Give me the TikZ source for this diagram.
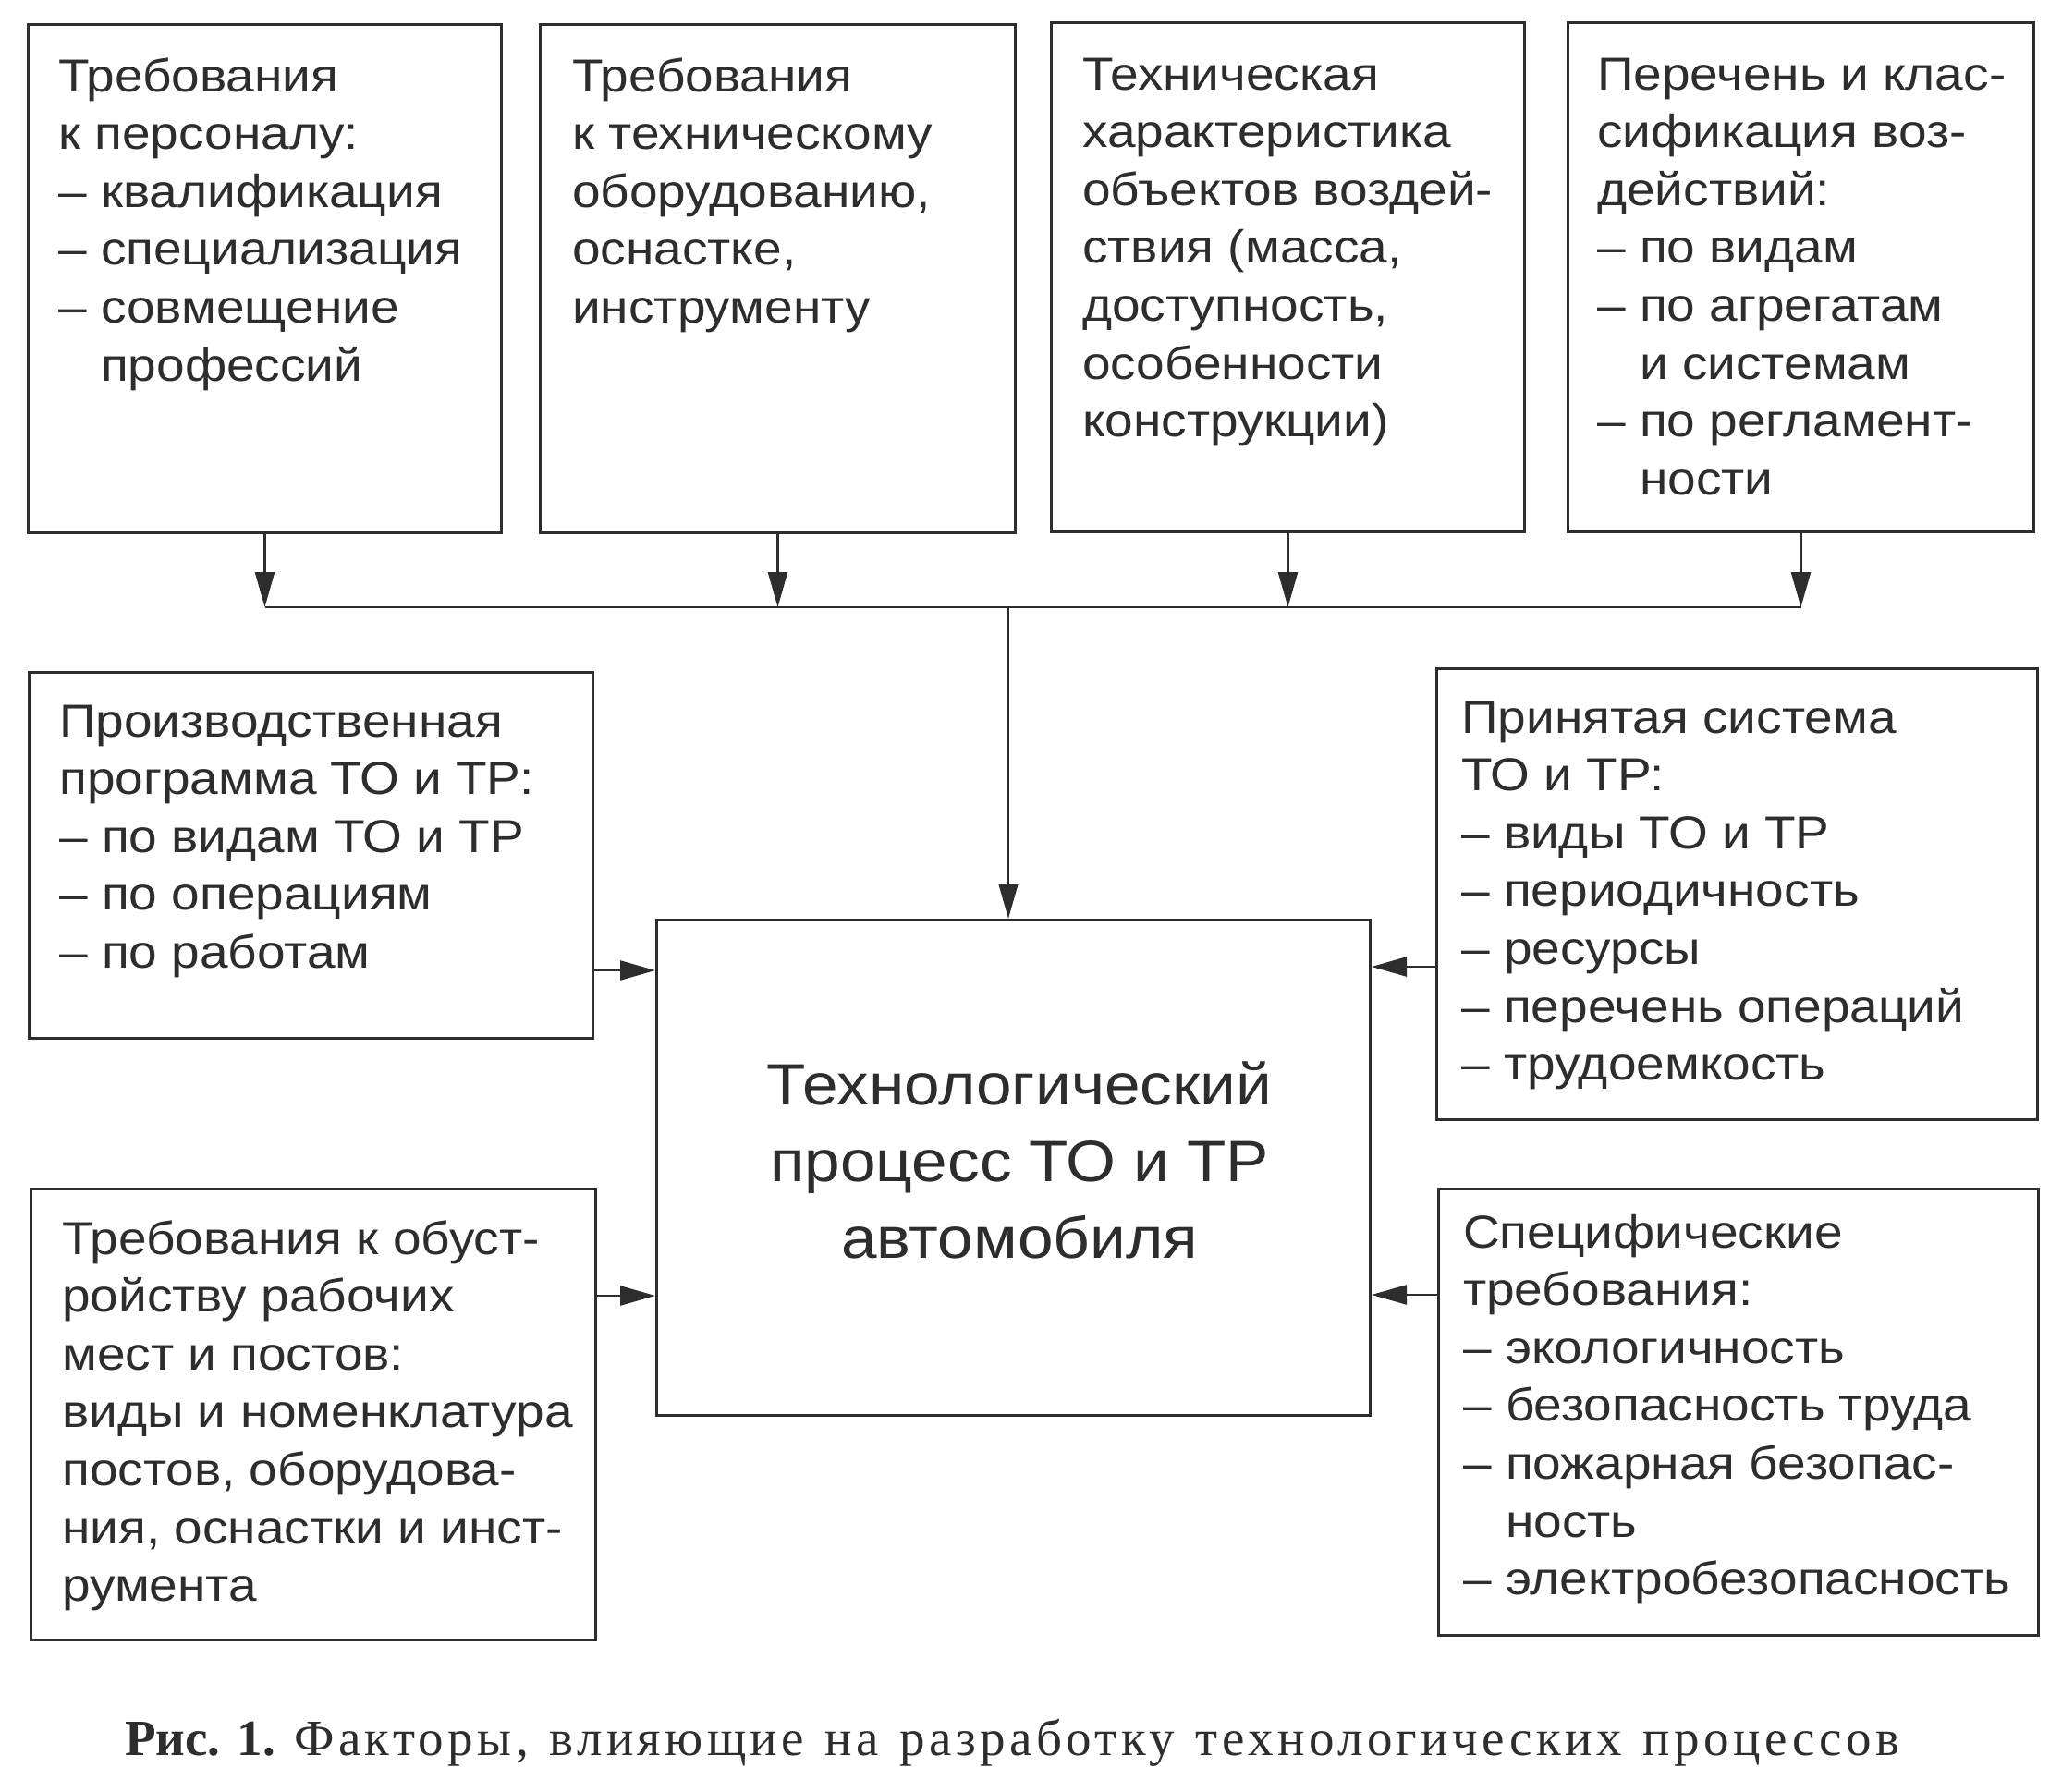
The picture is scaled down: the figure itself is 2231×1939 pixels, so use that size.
\documentclass[tikz,border=0pt]{standalone}
\usepackage{fontspec}
\setmainfont{Liberation Sans}[FakeStretch=1.1]
\newfontfamily\capbold{Liberation Serif}
\newfontfamily\capfont{Liberation Serif}[LetterSpace=8,WordSpace=1.25]
\usetikzlibrary{arrows.meta}
\definecolor{inkc}{RGB}{45,45,45}
\newcommand{\ind}{\phantom{– }}
\begin{document}
\begin{tikzpicture}[x=1pt,y=-1pt,
  box/.style={draw=inkc, line width=3pt, inner sep=0pt, anchor=north west},
  txt/.style={anchor=base west, inner sep=0pt, text=inkc, font=\fontsize{50}{62.6}\selectfont},
  ctxt/.style={anchor=base, inner sep=0pt, text=inkc, font=\fontsize{63}{83}\selectfont},
  conn/.style={draw=inkc, line width=2.5pt},
  arr/.style={conn, -{Triangle[length=38pt,width=21pt]}}]
\useasboundingbox[fill=white] (0,0) rectangle (2231,1939);

% top boxes
\node[box, minimum width=512, minimum height=550] (b1) at (29,25) {};
\node[box, minimum width=514, minimum height=550] (b2) at (583,25) {};
\node[box, minimum width=512, minimum height=551] (b3) at (1136,23) {};
\node[box, minimum width=504, minimum height=551] (b4) at (1695,23) {};
% side boxes
\node[box, minimum width=610, minimum height=396] (b5) at (30,726) {};
\node[box, minimum width=611, minimum height=488] (b6) at (32,1285) {};
\node[box, minimum width=650, minimum height=488] (b7) at (1553,722) {};
\node[box, minimum width=649, minimum height=483] (b8) at (1555,1285) {};
% central box
\node[box, minimum width=772, minimum height=536] (c) at (709,994) {};

% texts
\node[txt] (t1) at (63,99) {\begin{tabular}[t]{@{}l@{}}Требования\\к персоналу:\\– квалификация\\– специализация\\– совмещение\\\ind профессий\end{tabular}};
\node[txt] (t2) at (619,99) {\begin{tabular}[t]{@{}l@{}}Требования\\к техническому\\оборудованию,\\оснастке,\\инструменту\end{tabular}};
\node[txt] (t3) at (1171,97) {\begin{tabular}[t]{@{}l@{}}Техническая\\характеристика\\объектов воздей-\\ствия (масса,\\доступность,\\особенности\\конструкции)\end{tabular}};
\node[txt] (t4) at (1728,97) {\begin{tabular}[t]{@{}l@{}}Перечень и клас-\\сификация воз-\\действий:\\– по видам\\– по агрегатам\\\ind и системам\\– по регламент-\\\ind ности\end{tabular}};
\node[txt] (t5) at (64,797) {\begin{tabular}[t]{@{}l@{}}Производственная\\программа ТО и ТР:\\– по видам ТО и ТР\\– по операциям\\– по работам\end{tabular}};
\node[txt] (t6) at (67,1357) {\begin{tabular}[t]{@{}l@{}}Требования к обуст-\\ройству рабочих\\мест и постов:\\виды и номенклатура\\постов, оборудова-\\ния, оснастки и инст-\\румента\end{tabular}};
\node[txt] (t7) at (1581,793) {\begin{tabular}[t]{@{}l@{}}Принятая система\\ТО и ТР:\\– виды ТО и ТР\\– периодичность\\– ресурсы\\– перечень операций\\– трудоемкость\end{tabular}};
\node[txt] (t8) at (1583,1350) {\begin{tabular}[t]{@{}l@{}}Специфические\\требования:\\– экологичность\\– безопасность труда\\– пожарная безопас-\\\ind ность\\– электробезопасность\end{tabular}};
\node[ctxt] (tc) at (1103,1195) {\begin{tabular}[t]{@{}c@{}}Технологический\\процесс ТО и ТР\\автомобиля\end{tabular}};

% connectors
\coordinate (bus) at (0,657);
\coordinate (drop) at (1091,657);
\draw[arr] (b1.south) -- (b1.south |- bus);
\draw[arr] (b2.south) -- (b2.south |- bus);
\draw[arr] (b3.south) -- (b3.south |- bus);
\draw[arr] (b4.south) -- (b4.south |- bus);
\draw[conn] (b1.south |- bus) -- (b4.south |- bus);
\draw[arr] (drop) -- (drop |- c.north);
\coordinate (y5) at (0,1050);
\coordinate (y6) at (0,1402);
\coordinate (y7) at (0,1046);
\coordinate (y8) at (0,1401);
\draw[arr] (b5.east |- y5) -- (c.west |- y5);
\draw[arr] (b6.east |- y6) -- (c.west |- y6);
\draw[arr] (b7.west |- y7) -- (c.east |- y7);
\draw[arr] (b8.west |- y8) -- (c.east |- y8);

% caption
\node[anchor=base west, inner sep=0pt, text=inkc, font=\fontsize{55}{60}\selectfont] (cap) at (135,1899) {{\capbold\bfseries Рис. 1.}\hspace{20pt}{\capfont Факторы, влияющие на разработку технологических процессов}};
\end{tikzpicture}
\end{document}
